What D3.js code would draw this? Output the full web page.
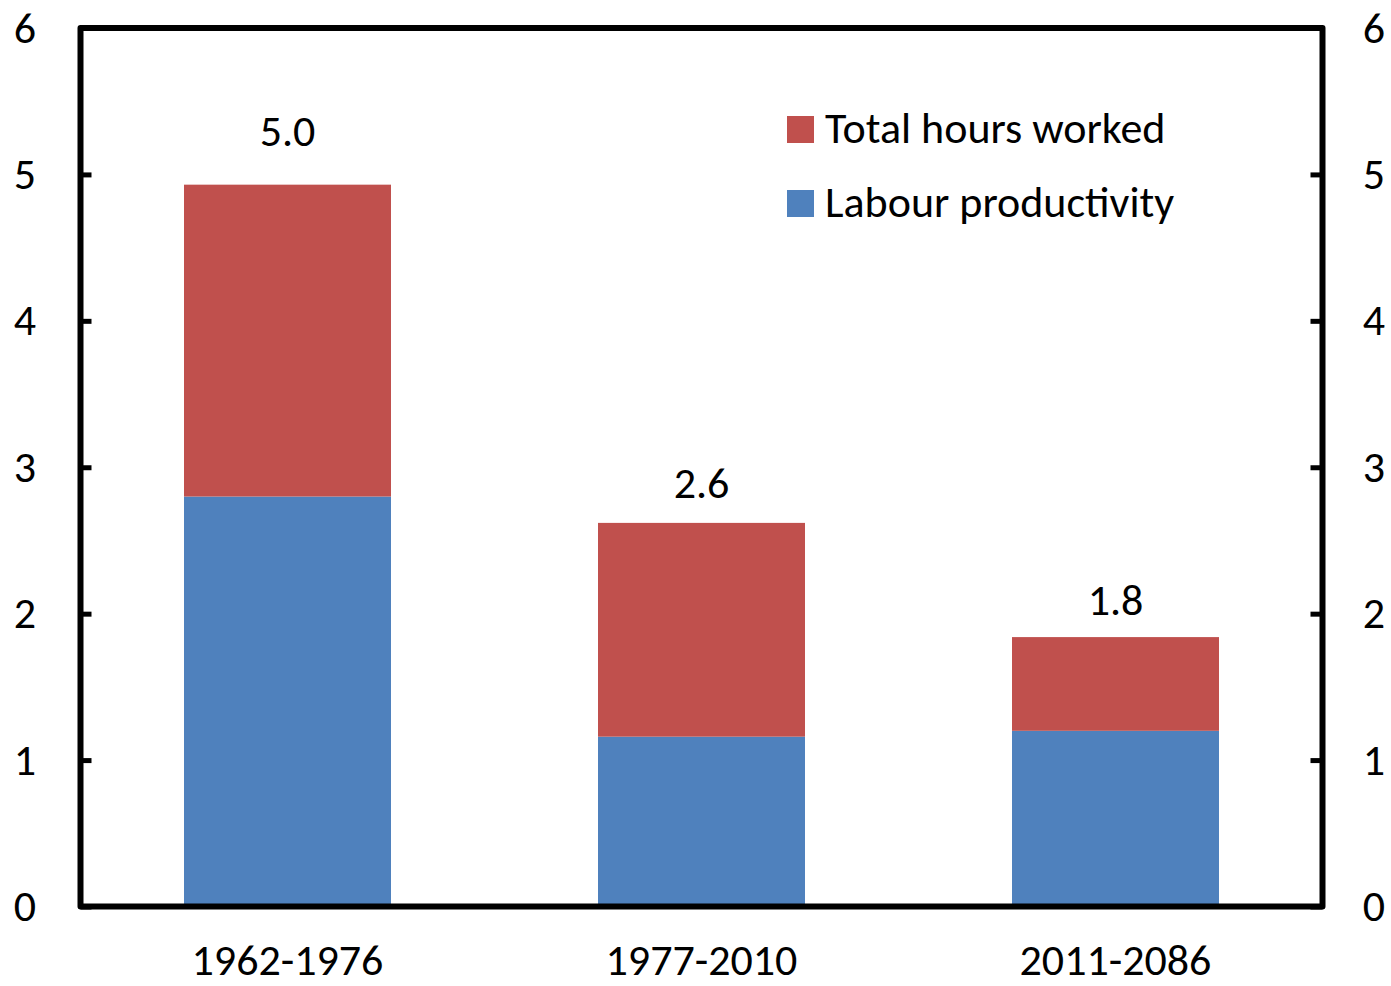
<!DOCTYPE html>
<html>
<head>
<meta charset="utf-8">
<script src="https://cdn.jsdelivr.net/npm/d3@7"></script>
<style>
  body { margin: 0; background: #fff; }
  svg text { font-family: Calibri, Carlito, Lato, sans-serif; fill: #000; }
</style>
</head>
<body>
<svg id="chart" width="1391" height="986"></svg>
<script>
// data
const periods = ["1962-1976", "1977-2010", "2011-2086"];
const productivity = [2.80, 1.16, 1.20];
const hoursWorked = [2.13, 1.46, 0.64];
const totalLabels = ["5.0", "2.6", "1.8"];
const yTicks = [0, 1, 2, 3, 4, 5, 6];
const seriesNames = ["Total hours worked", "Labour productivity"];

const red = "#C0504D", blue = "#4F81BD";
const fontSize = 44;

const svg = d3.select("#chart");
const plotLeft = 80.5, plotRight = 1322.5, plotTop = 28, plotBottom = 906.5;

const x = d3.scaleBand()
  .domain(periods)
  .range([plotLeft, plotRight])
  .paddingInner(0.5)
  .paddingOuter(0.25);

const y = d3.scaleLinear().domain([0, 6]).range([plotBottom, plotTop]);

const rows = periods.map((p, i) => ({ period: p, prod: productivity[i], hours: hoursWorked[i], label: totalLabels[i] }));
const stacked = d3.stack().keys(["prod", "hours"])(rows);
const colour = { prod: blue, hours: red };

svg.append("g")
  .selectAll("g")
  .data(stacked)
  .join("g")
  .attr("fill", d => colour[d.key])
  .selectAll("rect")
  .data(d => d)
  .join("rect")
  .attr("x", d => x(d.data.period))
  .attr("width", x.bandwidth())
  .attr("y", d => y(d[1]))
  .attr("height", d => y(d[0]) - y(d[1]));

// value labels above the bars
svg.append("g")
  .selectAll("text")
  .data(rows)
  .join("text")
  .attr("x", d => x(d.period) + x.bandwidth() / 2)
  .attr("y", d => y(+d.label) - 28)
  .attr("text-anchor", "middle")
  .attr("font-size", fontSize)
  .text(d => d.label);

// y axes, ticks pointing in
const leftAxis = svg.append("g")
  .attr("transform", `translate(${plotLeft},0)`)
  .call(d3.axisLeft(y).tickValues(yTicks).tickFormat(d3.format("d")).tickSize(-11).tickPadding(0));
const rightAxis = svg.append("g")
  .attr("transform", `translate(${plotRight},0)`)
  .call(d3.axisRight(y).tickValues(yTicks).tickFormat(d3.format("d")).tickSize(-12).tickPadding(0));

[leftAxis, rightAxis].forEach(g => {
  g.attr("font-family", null).attr("font-size", null);
  g.select(".domain").remove();
  g.selectAll(".tick line").attr("stroke", "#000").attr("stroke-width", 5);
  g.selectAll(".tick text")
    .attr("font-size", fontSize)
    .attr("text-anchor", "middle")
    .attr("dy", null)
    .attr("y", 14);
});
leftAxis.selectAll(".tick text").attr("x", 25 - plotLeft);
rightAxis.selectAll(".tick text").attr("x", 1374 - plotRight);

// frame
svg.append("rect")
  .attr("x", plotLeft)
  .attr("y", plotTop)
  .attr("width", plotRight - plotLeft)
  .attr("height", plotBottom - plotTop)
  .attr("fill", "none")
  .attr("stroke", "#000")
  .attr("stroke-width", 6)
  .attr("stroke-linejoin", "round");

// category labels
svg.append("g")
  .selectAll("text")
  .data(periods)
  .join("text")
  .attr("x", d => x(d) + x.bandwidth() / 2)
  .attr("y", 975)
  .attr("text-anchor", "middle")
  .attr("font-size", fontSize)
  .text(d => d);

// legend
const legend = svg.append("g").attr("transform", "translate(787,116)");
const legendRows = legend.selectAll("g")
  .data(seriesNames)
  .join("g")
  .attr("transform", (d, i) => `translate(0,${i * 74})`);
legendRows.append("rect")
  .attr("width", 27)
  .attr("height", 27)
  .attr("fill", (d, i) => i === 0 ? red : blue);
legendRows.append("text")
  .attr("x", 38)
  .attr("y", 27)
  .attr("font-size", fontSize)
  .text(d => d);
</script>
</body>
</html>
